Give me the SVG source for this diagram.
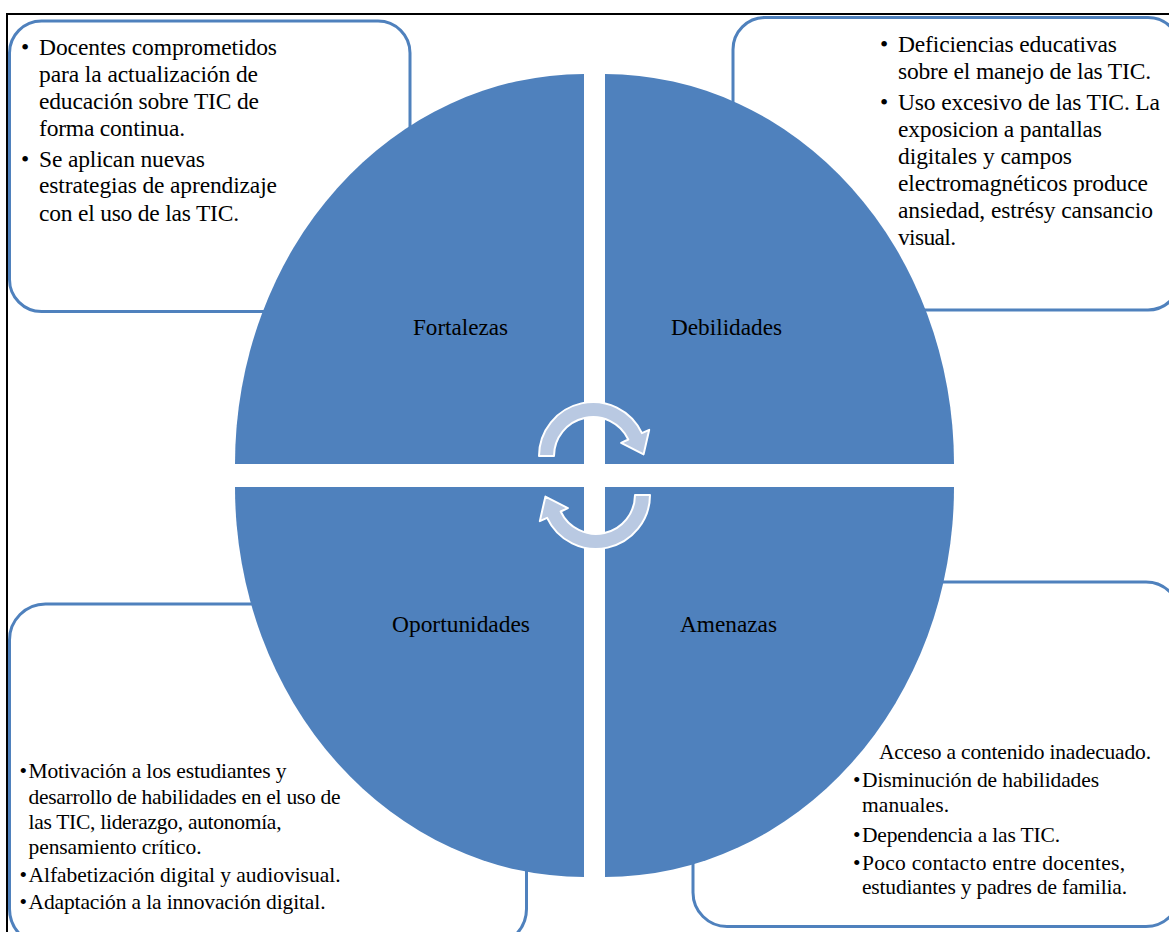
<svg xmlns="http://www.w3.org/2000/svg" width="1169" height="932" viewBox="0 0 1169 932">
<style>
.box{fill:#ffffff;stroke:#4f81bd;stroke-width:3}
.quad{fill:#4f81bd}
.t{font-family:'Liberation Serif','Times New Roman',serif;fill:#000000}
.big{font-size:23.5px}
.small{font-size:21.5px}
.lbl{font-family:'Liberation Serif','Times New Roman',serif;fill:#000000;font-size:24px;text-anchor:middle}
.arrow{fill:#b9c9e2;stroke:#ffffff;stroke-width:2;stroke-linejoin:round}
.frame{fill:none;stroke:#000000;stroke-width:2}
</style>
<rect x="0" y="0" width="1169" height="932" fill="#ffffff"/>
<g id="frame">
<path class="frame" d="M7,932 L7,14 L1169,14"/>
</g>
<g id="box-fortalezas">
<rect class="box" x="9.5" y="21" width="400.5" height="290.5" rx="32" ry="32"/>
<g class="t big" font-family="'Liberation Serif','Times New Roman',serif">
<text x="21" y="55">•</text>
<text x="39" y="55" textLength="238" lengthAdjust="spacing">Docentes comprometidos</text>
<text x="39" y="82" textLength="219" lengthAdjust="spacing">para la actualización de</text>
<text x="39" y="109" textLength="220" lengthAdjust="spacing">educación sobre TIC de</text>
<text x="39" y="136" textLength="146" lengthAdjust="spacing">forma continua.</text>
<text x="21" y="167">•</text>
<text x="39" y="167" textLength="166" lengthAdjust="spacing">Se aplican nuevas</text>
<text x="39" y="193" textLength="238" lengthAdjust="spacing">estrategias de aprendizaje</text>
<text x="39" y="221" textLength="200" lengthAdjust="spacing">con el uso de las TIC.</text>
</g>
</g>
<g id="box-debilidades">
<rect class="box" x="733" y="17.5" width="447" height="292.5" rx="32" ry="32"/>
<g class="t big" font-family="'Liberation Serif','Times New Roman',serif">
<text x="880" y="52">•</text>
<text x="898" y="52" textLength="219" lengthAdjust="spacing">Deficiencias educativas</text>
<text x="898" y="79" textLength="253" lengthAdjust="spacing">sobre el manejo de las TIC.</text>
<text x="880" y="110">•</text>
<text x="898" y="110" textLength="262" lengthAdjust="spacing">Uso excesivo de las TIC. La</text>
<text x="898" y="137" textLength="204" lengthAdjust="spacing">exposicion a pantallas</text>
<text x="898" y="164" textLength="174" lengthAdjust="spacing">digitales y campos</text>
<text x="898" y="191" textLength="250" lengthAdjust="spacing">electromagnéticos produce</text>
<text x="898" y="218" textLength="255" lengthAdjust="spacing">ansiedad, estrésy cansancio</text>
<text x="898" y="245" textLength="58" lengthAdjust="spacing">visual.</text>
</g>
</g>
<g id="box-oportunidades">
<rect class="box" x="9.5" y="604" width="517" height="341" rx="36" ry="36"/>
<g class="t small" font-family="'Liberation Serif','Times New Roman',serif">
<text x="19.5" y="778">•</text>
<text x="28.5" y="778" textLength="258" lengthAdjust="spacing">Motivación a los estudiantes y</text>
<text x="28.5" y="804" textLength="312" lengthAdjust="spacing">desarrollo de habilidades en el uso de</text>
<text x="28.5" y="829" textLength="253" lengthAdjust="spacing">las TIC, liderazgo, autonomía,</text>
<text x="28.5" y="854" textLength="173" lengthAdjust="spacing">pensamiento crítico.</text>
<text x="19.5" y="882">•</text>
<text x="28.5" y="882" textLength="312" lengthAdjust="spacing">Alfabetización digital y audiovisual.</text>
<text x="19.5" y="909">•</text>
<text x="28.5" y="909" textLength="297" lengthAdjust="spacing">Adaptación a la innovación digital.</text>
</g>
</g>
<g id="box-amenazas">
<rect class="box" x="693" y="582" width="487" height="344.5" rx="34" ry="34"/>
<g class="t small" font-family="'Liberation Serif','Times New Roman',serif">
<text x="879" y="759" textLength="272" lengthAdjust="spacing">Acceso a contenido inadecuado.</text>
<text x="853" y="787">•</text>
<text x="862" y="787" textLength="237" lengthAdjust="spacing">Disminución de habilidades</text>
<text x="862" y="812" textLength="87" lengthAdjust="spacing">manuales.</text>
<text x="853" y="842">•</text>
<text x="862" y="842" textLength="198" lengthAdjust="spacing">Dependencia a las TIC.</text>
<text x="853" y="870">•</text>
<text x="862" y="870" textLength="263" lengthAdjust="spacing">Poco contacto entre docentes,</text>
<text x="862" y="894" textLength="265" lengthAdjust="spacing">estudiantes y padres de familia.</text>
</g>
</g>
<g id="quad-fortalezas">
<path class="quad" d="M584,464 L235,464 A349,390 0 0 1 584,74 Z"/>
<text class="lbl" x="460.5" y="335" textLength="95" lengthAdjust="spacingAndGlyphs">Fortalezas</text>
</g>
<g id="quad-debilidades">
<path class="quad" d="M605,464 L605,74 A349,390 0 0 1 954,464 Z"/>
<text class="lbl" x="726.5" y="335" textLength="111" lengthAdjust="spacingAndGlyphs">Debilidades</text>
</g>
<g id="quad-oportunidades">
<path class="quad" d="M584,487 L584,877 A349,390 0 0 1 235,487 Z"/>
<text class="lbl" x="461" y="632" textLength="138" lengthAdjust="spacingAndGlyphs">Oportunidades</text>
</g>
<g id="quad-amenazas">
<path class="quad" d="M605,487 L954,487 A349,390 0 0 1 605,877 Z"/>
<text class="lbl" x="728.5" y="632" textLength="97" lengthAdjust="spacingAndGlyphs">Amenazas</text>
</g>
<g id="connectors">
<path class="arrow" d="M539,456 A54,54 0 0 1 641.9,433.2 L649.2,429.8 L643.6,454.4 L621.1,442.9 L628.3,439.5 A39,39 0 0 0 554,456 Z"/>
<path class="arrow" transform="rotate(180 594.5 475.5)" d="M539,456 A54,54 0 0 1 641.9,433.2 L649.2,429.8 L643.6,454.4 L621.1,442.9 L628.3,439.5 A39,39 0 0 0 554,456 Z"/>
</g>
</svg>
